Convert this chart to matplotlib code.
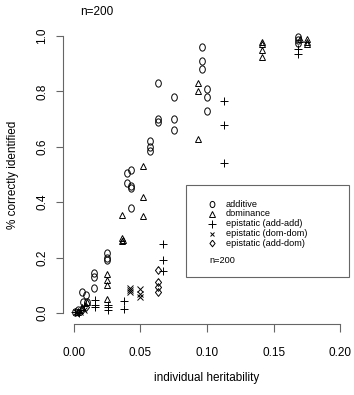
import numpy as np
import matplotlib
matplotlib.use("Agg")
import matplotlib.pyplot as plt
from matplotlib.path import Path
from matplotlib.patches import Rectangle

plt.rcParams['font.family'] = ['Liberation Sans', 'DejaVu Sans']

# additive
add_x = [0.001, 0.003, 0.006, 0.007, 0.010, 0.009, 0.015, 0.015, 0.015,
         0.025, 0.025, 0.025, 0.040, 0.040, 0.043, 0.043, 0.043, 0.043,
         0.057, 0.057, 0.057, 0.063, 0.063, 0.063, 0.075, 0.075, 0.075,
         0.096, 0.096, 0.096, 0.100, 0.100, 0.100, 0.168, 0.168, 0.168]
add_y = [0.004, 0.011, 0.076, 0.04, 0.04, 0.065, 0.09, 0.13, 0.145,
         0.19, 0.20, 0.215, 0.505, 0.47, 0.516, 0.46, 0.45, 0.38,
         0.62, 0.60, 0.585, 0.83, 0.70, 0.69, 0.78, 0.70, 0.66,
         0.96, 0.91, 0.88, 0.81, 0.78, 0.73, 0.995, 0.985, 0.975]

# dominance
dom_x = [0.003, 0.006, 0.010, 0.025, 0.025, 0.025, 0.025, 0.036, 0.036, 0.036, 0.037,
         0.052, 0.052, 0.052, 0.093, 0.093, 0.093, 0.141, 0.141, 0.141, 0.141,
         0.170, 0.175, 0.175, 0.175]
dom_y = [0.005, 0.02, 0.04, 0.14, 0.12, 0.10, 0.05, 0.355, 0.27, 0.26, 0.265,
         0.53, 0.42, 0.35, 0.83, 0.80, 0.63, 0.98, 0.97, 0.95, 0.925,
         0.99, 0.99, 0.98, 0.97]

# epistatic add-add
aa_x = [0.001, 0.004, 0.008, 0.016, 0.016, 0.016, 0.026, 0.026, 0.026, 0.038, 0.038,
        0.067, 0.067, 0.067, 0.1125, 0.1125, 0.1125, 0.168, 0.168]
aa_y = [0.003, 0.0, 0.025, 0.047, 0.03, 0.02, 0.03, 0.02, 0.012, 0.043, 0.015,
        0.25, 0.19, 0.15, 0.765, 0.68, 0.54, 0.955, 0.935]

# epistatic dom-dom
dd_x = [0.002, 0.005, 0.008, 0.042, 0.042, 0.042, 0.050, 0.050, 0.050]
dd_y = [0.002, 0.005, 0.010, 0.090, 0.082, 0.075, 0.085, 0.068, 0.058]

# epistatic add-dom
ad_x = [0.003, 0.006, 0.009, 0.063, 0.063, 0.063, 0.063]
ad_y = [0.003, 0.010, 0.020, 0.155, 0.110, 0.095, 0.075]

labels = ["additive", "dominance", "epistatic (add-add)",
          "epistatic (dom-dom)", "epistatic (add-dom)"]

# squeezed circle / diamond like the original
t = np.linspace(0, 2 * np.pi, 60)
ell = Path(np.column_stack([0.78 * np.cos(t), np.sin(t)]))
dia = Path([(0, 1), (0.78, 0), (0, -1), (-0.78, 0), (0, 1)])

fig = plt.figure(figsize=(3.54, 3.95), dpi=100)
ax = fig.add_axes([63 / 354, 1 - 324 / 395, 288 / 354, 299 / 395])

gray = '#666666'
styles = [
    (add_x, add_y, ell, 5.2),
    (dom_x, dom_y, '^', 5.0),
    (aa_x, aa_y, '+', 6.0),
    (dd_x, dd_y, 'x', 4.2),
    (ad_x, ad_y, dia, 5.6),
]
for xs, ys, m, ms in styles:
    ax.plot(xs, ys, linestyle='none', marker=m, ms=ms, mfc='none',
            mec='black', mew=0.7)

ax.set_xlim(-0.008, 0.208)
ax.set_ylim(-0.04, 1.04)
for s in ['top', 'right']:
    ax.spines[s].set_visible(False)
ax.spines['left'].set_bounds(0, 1)
ax.spines['bottom'].set_bounds(0, 0.2)
for s in ['left', 'bottom']:
    ax.spines[s].set_color(gray)
    ax.spines[s].set_linewidth(0.8)

ax.set_xticks([0, 0.05, 0.1, 0.15, 0.2])
ax.set_xticklabels(['0.00', '0.05', '0.10', '0.15', '0.20'])
ax.set_yticks([0, 0.2, 0.4, 0.6, 0.8, 1.0])
ax.set_yticklabels(['0.0', '0.2', '0.4', '0.6', '0.8', '1.0'], rotation=90, va='center')
ax.tick_params(axis='x', length=6, width=0.8, color=gray, pad=10.5, labelsize=8.5)
ax.tick_params(axis='y', length=5, width=0.8, color=gray, pad=5.5, labelsize=8.5)

# legend box drawn R-style
ax.add_patch(Rectangle((0.084, 0.13), 0.1225, 0.332, fill=False,
                       edgecolor=gray, linewidth=0.8))
ly = 0.393
for (xs, ys, m, ms), lab in zip(styles, labels):
    ax.plot([0.1035], [ly], linestyle='none', marker=m, ms=ms * 0.85, mfc='none',
            mec='black', mew=0.7)
    ax.text(0.114, ly, lab, fontsize=6.6, va='center', ha='left')
    ly -= 0.0355
ax.text(0.1015, 0.191, "n=200", fontsize=6.6, va='center', ha='left')

fig.text(97 / 354, 1 - 12 / 395, "n=200", fontsize=8.5, ha='center', va='center')
fig.text(207 / 354, 1 - 378 / 395, "individual heritability", fontsize=8.5,
         ha='center', va='center')
fig.text(13 / 354, 1 - 175 / 395, "% correctly identified", fontsize=8.5,
         ha='center', va='center', rotation=90)

fig.savefig("out.png", dpi=100)
